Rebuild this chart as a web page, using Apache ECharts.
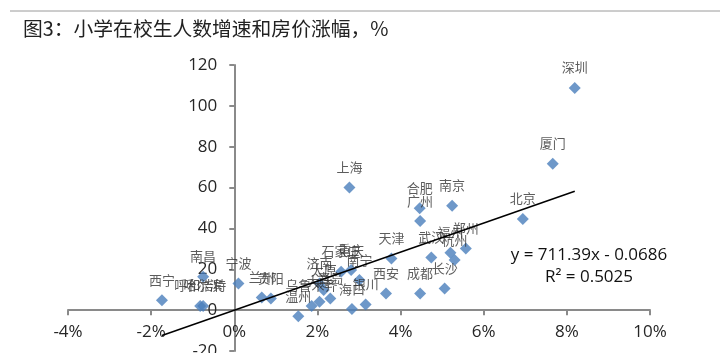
<!DOCTYPE html>
<html>
<head>
<meta charset="utf-8">
<script src="https://cdn.jsdelivr.net/npm/echarts@6/dist/echarts.min.js"></script>
<style>html,body{margin:0;padding:0;background:#fff}#c{width:720px;height:353px}</style>
</head>
<body>
<div id="c"></div>
<script>
// City names
const cities = ['深圳','厦门','北京','上海','合肥','南京','广州','郑州','福州','杭州','武汉','天津','长沙','成都','西安','银川','海口','南宁','重庆','石家庄','济南','太原','大连','青岛','乌鲁木齐','温州','贵阳','兰州','宁波','南昌','呼和浩特','哈尔滨','西宁'];
// Primary school enrolment growth, %
const enrolGrowth = [8.19,7.66,6.94,2.77,4.46,5.24,4.47,5.57,5.20,5.30,4.74,3.78,5.06,4.47,3.65,3.16,2.83,3.01,2.81,2.57,2.05,2.15,2.05,2.31,1.86,1.54,0.88,0.66,0.10,-0.75,-0.82,-0.75,-1.74];
// House price growth, %
const priceGrowth = [108.8,71.6,44.6,60.0,49.9,51.1,43.6,30.2,28.1,24.5,25.8,25.3,10.6,8.2,8.2,2.8,0.5,14.7,19.6,18.8,13.0,9.8,4.1,5.7,2.0,-3.0,5.7,6.2,13.0,16.3,2.0,2.0,4.9];
// Trendline coefficients (x as fraction)
const slope = 711.39;
const intercept = -0.0686;
const r2 = 0.5025;
// Axis ticks
const xTicks = [-4,-2,0,2,4,6,8,10];
const yTicks = [-20,0,20,40,60,80,100,120];

const points = cities.map((c,i)=>[enrolGrowth[i], priceGrowth[i], c]);
const minX = Math.min(...enrolGrowth), maxX = Math.max(...enrolGrowth);
const f = x => slope * x / 100 + intercept;
const trend = [[minX, f(minX)], [maxX, f(maxX)]];

const gridTop = 65, gridHeight = 286, gridLeft = 68, gridWidth = 582;
const yMin = yTicks[0], yMax = yTicks[yTicks.length-1];
const xMin = xTicks[0], xMax = xTicks[xTicks.length-1];
// move axes onto the zero lines of the other axis (labels follow)
const xAxisOffset = -gridHeight * (0 - yMin) / (yMax - yMin);
const yAxisOffset = -gridWidth * (0 - xMin) / (xMax - xMin);

const axisColor = '#8a8a8a';
const chart = echarts.init(document.getElementById('c'));
chart.setOption({
  animation: false,
  grid: {left: gridLeft, width: gridWidth, top: gridTop, height: gridHeight, containLabel: false, outerBoundsMode: 'none'},
  xAxis: {
    type: 'value', min: xMin, max: xMax, interval: 2,
    position: 'bottom', offset: xAxisOffset,
    axisLine: {onZero: false, lineStyle: {color: axisColor, width: 2}},
    axisTick: {show: true, length: 5, lineStyle: {color: axisColor, width: 2}},
    axisLabel: {formatter: v => v + '%', margin: 14, fontFamily: 'Open Sans', fontSize: 17, color: '#262626'},
    splitLine: {show: false}
  },
  yAxis: {
    type: 'value', min: yMin, max: yMax, interval: 20,
    position: 'left', offset: yAxisOffset,
    axisLine: {show: true, onZero: false, lineStyle: {color: axisColor, width: 2}},
    axisTick: {show: true, length: 5, lineStyle: {color: axisColor, width: 2}},
    axisLabel: {margin: 17, fontFamily: 'Open Sans', fontSize: 17, color: '#262626'},
    splitLine: {show: false}
  },
  graphic: [
    {type: 'line', shape: {x1: 10, y1: 11, x2: 720, y2: 11}, style: {stroke: '#9a9a9a', lineWidth: 1}},
    {type: 'text', x: 23, y: 28, style: {text: '图3：小学在校生人数增速和房价涨幅，%', font: '19.8px "Noto Sans CJK SC"', fill: '#222', align: 'left', verticalAlign: 'middle'}},
    {type: 'text', x: 589, y: 255, z: 10, style: {text: 'y = ' + slope + 'x - ' + Math.abs(intercept), font: '17px "Open Sans"', fill: '#111', align: 'center', verticalAlign: 'middle'}},
    {type: 'text', x: 589, y: 277, z: 10, style: {text: 'R² = ' + r2, font: '17px "Open Sans"', fill: '#111', align: 'center', verticalAlign: 'middle'}}
  ],
  series: [
    {
      type: 'scatter', data: points, symbol: 'diamond', symbolSize: 12,
      itemStyle: {color: '#4a7ebb'},
      label: {show: true, position: 'top', distance: 8, formatter: p => p.data[2], fontFamily: 'Noto Sans CJK SC', fontSize: 13, color: '#333'},
      z: 2
    },
    {
      type: 'line', data: trend, symbol: 'none', silent: true,
      lineStyle: {color: '#000', width: 1.5}, z: 5
    }
  ]
});
</script>
</body>
</html>
